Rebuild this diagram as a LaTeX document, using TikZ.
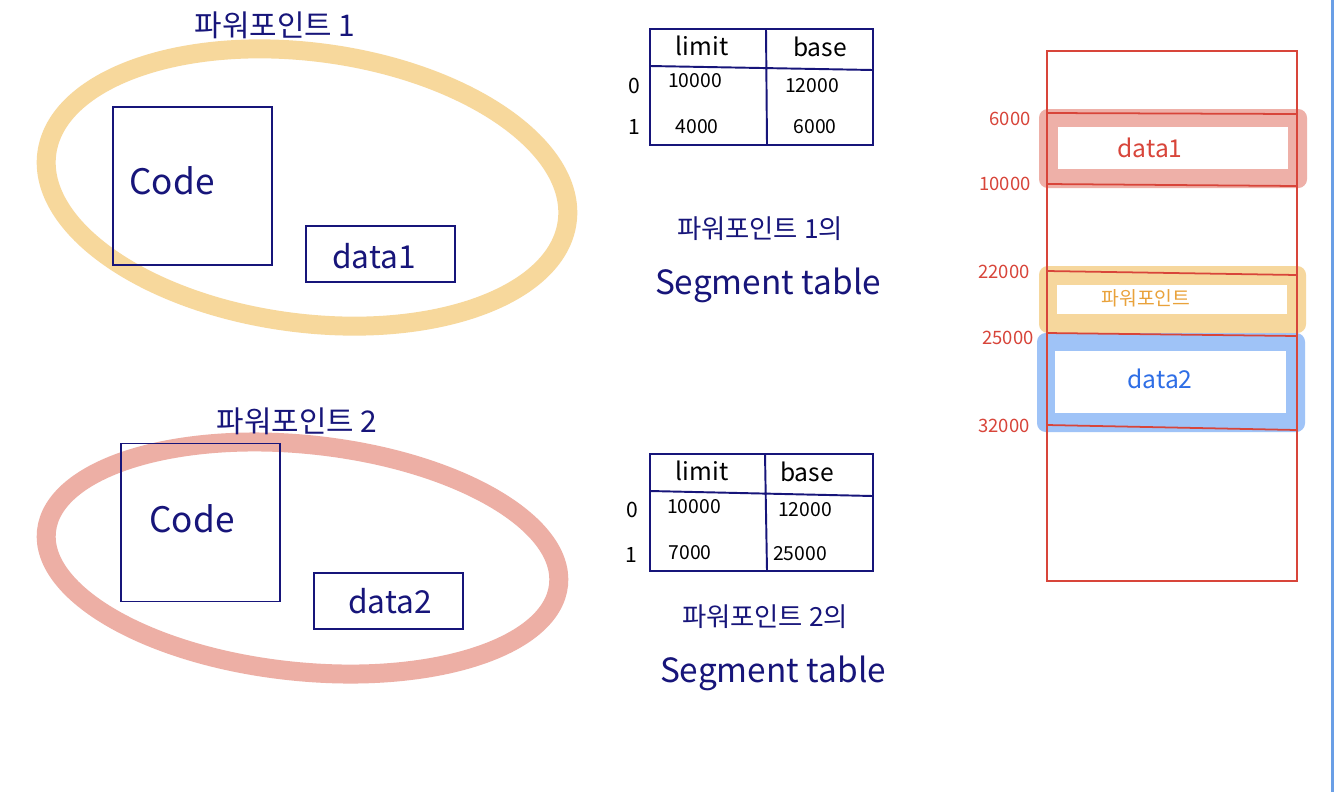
\documentclass[tikz,border=0pt]{standalone}
\usepackage{fontspec}
\setmainfont{Noto Sans CJK KR}
\definecolor{inkblue}{HTML}{17157A}
\definecolor{ringorange}{HTML}{F7D89C}
\definecolor{ringpink}{HTML}{EDAFA5}
\definecolor{memred}{HTML}{D8453A}
\definecolor{bandpink}{HTML}{EEB0A8}
\definecolor{bandorange}{HTML}{F6D79D}
\definecolor{bandblue}{HTML}{9FC3F7}
\definecolor{txtblue}{HTML}{2E6EE6}
\definecolor{txtorange}{HTML}{E9A23B}
\definecolor{edgeblue}{HTML}{6A9FE6}
\newcommand{\fs}[1]{\fontsize{#1}{#1}\selectfont}

\begin{document}
\begin{tikzpicture}[x = 0.02cm, y = -0.02cm,
    ink/.style = {draw = inkblue, line width = 1.1pt},
    inktext/.style = {text = inkblue, inner sep = 0pt},
    memtext/.style = {text = memred, inner sep = 0pt, font = \fs{10.5}},
    box/.style = {ink, inner sep = 0pt, minimum width = #1},
    band/.style = {rounded corners = 5pt}]
    \useasboundingbox (0,0) rectangle (1334,792);
    \fill[white] (0,0) rectangle (1334,792);
    \fill[edgeblue] (1331,0) rectangle (1334,792);

    % program 1
    \draw[ringorange, line width = 10.8pt, rotate around = {-7.5:(307,187.5)}]
        (307,187.5) ellipse [x radius = 5.25cm, y radius = 2.71cm];
    \node[inktext, font = \fs{17}] (Title1) at (275,25) {파워포인트 1};
    \node[box = 3.18cm, minimum height = 3.16cm] (Code1) at (192.5,186) {};
    \node[inktext, font = \fs{20}] (CodeText1) at (172,181) {Code};
    \node[box = 2.98cm, minimum height = 1.12cm] (Data1) at (380.5,254) {};
    \node[inktext, font = \fs{18}] (DataText1) at (374,256) {data1};

    % program 2
    \draw[ringpink, line width = 10.8pt, rotate around = {-6:(302.5,558)}]
        (302.5,558) ellipse [x radius = 5.15cm, y radius = 2.27cm];
    \node[inktext, font = \fs{17}] (Title2) at (297,421) {파워포인트 2};
    \node[box = 3.18cm, minimum height = 3.16cm] (Code2) at (200.5,522.5) {};
    \node[inktext, font = \fs{20}] (CodeText2) at (192,519) {Code};
    \node[box = 2.98cm, minimum height = 1.12cm] (Data2) at (388.5,601) {};
    \node[inktext, font = \fs{18}] (DataText2) at (390,601) {data2};

    % segment table 1
    \draw[ink]
        (650,29) rectangle (873,145)
        (766,29) -- (767,145)
        (650,66) -- (873,70);
    {[inktext, font = \fs{14}]
        \node (Lim1) at (702,46) {limit};
        \node (Base1) at (820,47) {base};}
    {[inktext, font = \fs{11}]
        \node (L10) at (695,81) {10000};
        \node (B10) at (812,86) {12000};
        \node (L11) at (697,127) {4000};
        \node (B11) at (815,127) {6000};}
    {[inktext, font = \fs{12}]
        \node (R10) at (634,86) {0};
        \node (R11) at (634,127) {1};}
    \node[inktext, font = \fs{15}] (Cap1) at (760,229) {파워포인트 1의};
    \node[inktext, font = \fs{19}] (Seg1) at (768,285) {Segment table};

    % segment table 2
    \draw[ink]
        (650,454) rectangle (873,571)
        (765,454) -- (767,571)
        (650,491) -- (873,496);
    {[inktext, font = \fs{14}]
        \node (Lim2) at (702,471) {limit};
        \node (Base2) at (807,472) {base};}
    {[inktext, font = \fs{11}]
        \node (L20) at (694,507) {10000};
        \node (B20) at (805,510) {12000};
        \node (L21) at (690,553) {7000};
        \node (B21) at (800,554) {25000};}
    {[inktext, font = \fs{12}]
        \node (R20) at (632,510) {0};
        \node (R21) at (631,555) {1};}
    \node[inktext, font = \fs{15}] (Cap2) at (765,617) {파워포인트 2의};
    \node[inktext, font = \fs{19}] (Seg2) at (773,673) {Segment table};

    % physical memory
    \fill[bandpink, band] (1039,109) rectangle (1307,188);
    \fill[white] (1058,127) rectangle (1288,169);
    \fill[bandorange, band] (1039,266) rectangle (1306,333);
    \fill[white] (1057,285) rectangle (1287,314);
    \fill[bandblue, band] (1037,333) rectangle (1305,432);
    \fill[white] (1055,351) rectangle (1286,413);
    \draw[memred, line width = 1pt]
        (1047,51) rectangle (1297,581)
        (1047,113) -- (1297,114)
        (1047,184) -- (1297,186)
        (1047,271) -- (1297,275)
        (1047,333) -- (1297,336)
        (1047,425) -- (1297,430);
    \node[text = memred, inner sep = 0pt, font = \fs{14}] (MemData1) at (1150,148) {data1};
    \node[text = txtorange, inner sep = 0pt, font = \fs{11}] (MemPpt) at (1146,298) {파워포인트};
    \node[text = txtblue, inner sep = 0pt, font = \fs{14}] (MemData2) at (1160,379) {data2};
    \node[memtext] (A6000) at (1010,119) {6000};
    \node[memtext] (A10000) at (1005,184) {10000};
    \node[memtext] (A22000) at (1004,272) {22000};
    \node[memtext] (A25000) at (1008,338) {25000};
    \node[memtext] (A32000) at (1004,426) {32000};
\end{tikzpicture}
\end{document}
